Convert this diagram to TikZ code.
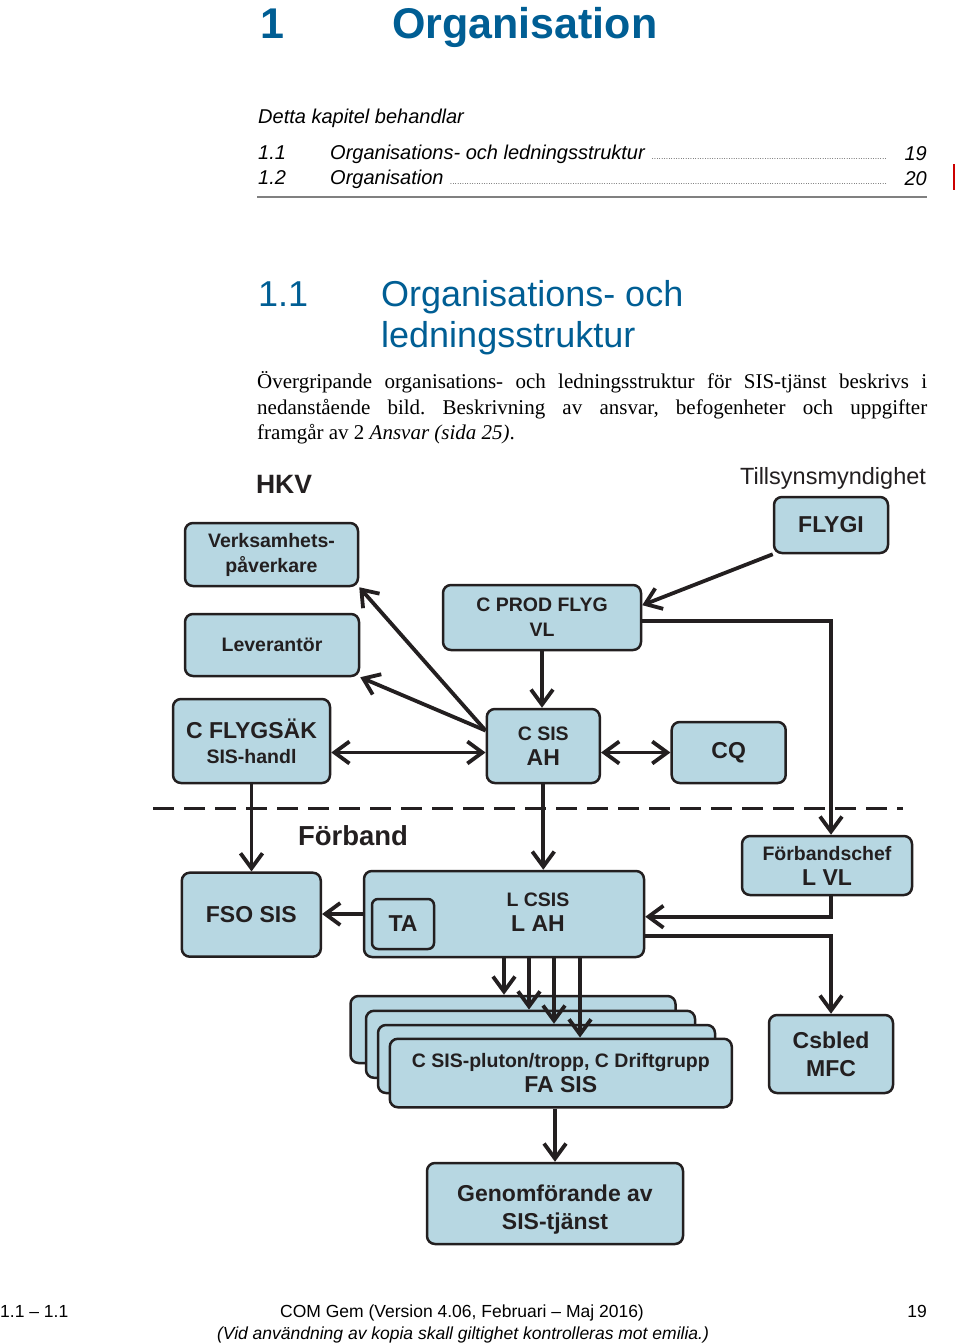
\documentclass[tikz,border=0pt]{standalone}
\usepackage{fontspec}
\setmainfont{Liberation Serif}
\setsansfont{Liberation Sans}
\newfontfamily\helv{Liberation Sans}
\usetikzlibrary{arrows.meta}
\frenchspacing

\definecolor{titleblue}{RGB}{0,94,148}
\definecolor{boxfill}{RGB}{183,215,226}
\definecolor{inkdark}{RGB}{35,31,32}

\newcommand{\smalltxt}{\helv\bfseries\fontsize{19.5}{25}\selectfont}
\newcommand{\bigtxt}{\helv\bfseries\fontsize{23}{28}\selectfont}
\newcommand{\tocfont}{\helv\itshape\fontsize{20}{24}\selectfont}
\newcommand{\leaderdots}{\ {\fontsize{7}{7}\selectfont\leaders\hbox to 2.4pt{\hss.\hss}\hfill}}

\tikzstyle{orgbox} = [rectangle, rounded corners=8pt, draw=inkdark, line width=2.5pt,
fill=boxfill, text=inkdark, align=center, inner sep=0pt, font=\smalltxt]
\tikzstyle{boxtext} = [align=center, text=inkdark, inner sep=0pt]
\tikzstyle{pagetext} = [inner sep=0pt, anchor=base west]
\tikzstyle{arrow} = [line width=3.8pt, draw=inkdark, -{Straight Barb[length=15pt,width=22pt]}]
\tikzstyle{twoway} = [line width=3.8pt, draw=inkdark,
{Straight Barb[length=15pt,width=22pt]}-{Straight Barb[length=15pt,width=22pt]}]
\tikzstyle{dashline} = [line width=3.5pt, draw=inkdark, dash pattern=on 21pt off 10pt]

\begin{document}
\begin{tikzpicture}[x=1pt, y=-1pt]
			\useasboundingbox (0,0) rectangle (960,1344);

			% page head
			\node (chapnum) [pagetext, font=\helv\bfseries\fontsize{43}{50}\selectfont, text=titleblue] at (260,38) {1};
			\node (chaptitle) [pagetext, font=\helv\bfseries\fontsize{43}{50}\selectfont, text=titleblue] at (392,38) {Organisation};
			\node (intro) [pagetext, font=\tocfont] at (258,123) {Detta kapitel behandlar};
			\node (tocnuma) [pagetext, font=\tocfont] at (258,159) {1.1};
			\node (tocitema) [pagetext, font=\tocfont] at (330,159) {\makebox[557pt][l]{Organisations- och ledningsstruktur\leaderdots}};
			\node (tocpagea) [pagetext, font=\tocfont, anchor=base east] at (927,160) {19};
			\node (tocnumb) [pagetext, font=\tocfont] at (258,184) {1.2};
			\node (tocitemb) [pagetext, font=\tocfont] at (330,184) {\makebox[557pt][l]{Organisation\leaderdots}};
			\node (tocpageb) [pagetext, font=\tocfont, anchor=base east] at (927,185) {20};
			\draw [gray, line width=2pt] (257,197) -- (927,197);
			\draw [red!80!black, line width=2pt] (954,164) -- (954,190);

			\node (secnum) [pagetext, font=\helv\fontsize{36}{42}\selectfont, text=titleblue] at (258,306) {1.1};
			\node (sectitle) [pagetext, font=\helv\fontsize{36}{42}\selectfont, text=titleblue] at (381,306) {Organisations- och};
			\node (sectitleb) [pagetext, font=\helv\fontsize{36}{42}\selectfont, text=titleblue] at (381,347) {ledningsstruktur};
			\node (parla) [pagetext, font=\fontsize{21}{26}\selectfont] at (257,388) {\makebox[670pt][s]{Övergripande organisations- och ledningsstruktur för SIS-tjänst beskrivs i}};
			\node (parlb) [pagetext, font=\fontsize{21}{26}\selectfont] at (257,414) {\makebox[670pt][s]{nedanstående bild. Beskrivning av ansvar, befogenheter och uppgifter}};
			\node (parlc) [pagetext, font=\fontsize{21}{26}\selectfont] at (257,439) {framgår av 2 \textit{Ansvar (sida 25)}.};

			% diagram
			\node (hkv) [pagetext, anchor=base, font=\helv\bfseries\fontsize{26.5}{30}\selectfont, text=inkdark] at (284,493) {HKV};
			\node (tillsyn) [pagetext, anchor=base, font=\helv\fontsize{23.5}{28}\selectfont, text=inkdark] at (833,484) {Tillsynsmyndighet};
			\node (forband) [pagetext, anchor=base, font=\helv\bfseries\fontsize{27.5}{30}\selectfont, text=inkdark] at (353,845) {Förband};

			\node (verk) [orgbox, minimum width=173pt, minimum height=63pt] at (271.5,554.5) {Verksamhets-\\påverkare};
			\node (flygi) [orgbox, minimum width=114pt, minimum height=56pt, font=\bigtxt] at (831,525) {FLYGI};
			\node (lev) [orgbox, minimum width=174pt, minimum height=62pt] at (272,645) {Leverantör};
			\node (cprod) [orgbox, minimum width=198pt, minimum height=65pt] at (542,617.5) {C PROD FLYG\\VL};
			\node (cflyg) [orgbox, minimum width=157pt, minimum height=84pt] at (251.5,741) {{\bigtxt C FLYGSÄK}\\SIS-handl};
			\node (csis) [orgbox, minimum width=113pt, minimum height=74pt] at (543.3,746) {C SIS\\{\bigtxt AH}};
			\node (cq) [orgbox, minimum width=114pt, minimum height=61pt, font=\bigtxt] at (728.7,752.5) {CQ};
			\node (fso) [orgbox, minimum width=139pt, minimum height=84pt, font=\bigtxt] at (251.3,914.7) {FSO SIS};
			\node (lcsis) [orgbox, minimum width=280pt, minimum height=86pt] at (504,914) {};
			\node (lcsistxt) [boxtext, font=\smalltxt] at (538,912) {L CSIS\\{\bigtxt L AH}};
			\node (ta) [orgbox, rounded corners=6pt, minimum width=62pt, minimum height=50pt, font=\bigtxt] at (403,924) {TA};
			\node (fchef) [orgbox, minimum width=170pt, minimum height=59pt] at (827,865.5) {Förbandschef\\{\bigtxt L VL}};
			\node (stacka) [orgbox, minimum width=325pt, minimum height=67pt] at (513,1029.5) {};
			\node (stackb) [orgbox, minimum width=329pt, minimum height=67pt] at (530.5,1044.3) {};
			\node (stackc) [orgbox, minimum width=337pt, minimum height=68pt] at (546.5,1059) {};
			\node (fasis) [orgbox, minimum width=342pt, minimum height=68.5pt] at (560.8,1073) {C SIS-pluton/tropp, C Driftgrupp\\{\bigtxt FA SIS}};
			\node (csbled) [orgbox, minimum width=124pt, minimum height=78pt, font=\bigtxt] at (831,1054) {Csbled\\MFC};
			\node (genom) [orgbox, minimum width=256pt, minimum height=81pt] at (555,1203.5) {};
			\node (genomtxt) [boxtext, font=\bigtxt] at (555,1210) {Genomförande av\\SIS-tjänst};
			\coordinate (rail) at (831,0);

			\draw [dashline] (153,808.5) -- (903,808.5);

			\draw [arrow] (csis.165) -- (verk.south east);
			\draw [arrow] (csis.165) -- (lev.south east);
			\draw [arrow] (flygi.south west) -- (cprod.7);
			\draw [arrow] (cprod.south) -- (cprod.south |- csis.north);
			\draw [arrow] ([yshift=-3.5pt]cprod.east) -| (rail |- fchef.north);
			\draw [twoway] (cflyg.east |- cq.west) -- (csis.west |- cq.west);
			\draw [twoway] (csis.east |- cq.west) -- (cq.west);
			\draw [arrow] (cflyg.south) -- (cflyg.south |- fso.north);
			\draw [arrow] (csis.south) -- (csis.south |- lcsis.north);
			\draw [arrow] (lcsis.west) -- (lcsis.west -| fso.east);
			\draw [arrow] (rail |- fchef.south) |- ([yshift=-2.7pt]lcsis.east);
			\draw [arrow] ([yshift=-22pt]lcsis.east) -| (csbled.north);
			\foreach \xx/\target in {504/stacka, 529/stackb, 554/stackc, 580/fasis}
				\draw [arrow] (\xx,0 |- lcsis.south) -- (\xx,0 |- \target.north);
			\draw [arrow] (fasis.south -| genom.north) -- (genom.north);

			% page foot
			\node (footsec) [pagetext, font=\helv\fontsize{17.5}{20}\selectfont] at (0,1317) {1.1 – 1.1};
			\node (footver) [pagetext, anchor=base, font=\helv\fontsize{17.5}{20}\selectfont] at (462,1317) {COM Gem (Version 4.06, Februari – Maj 2016)};
			\node (footpage) [pagetext, anchor=base east, font=\helv\fontsize{17.5}{20}\selectfont] at (927,1317) {19};
			\node (footnote) [pagetext, anchor=base, font=\helv\itshape\fontsize{17.5}{20}\selectfont] at (463,1339) {(Vid användning av kopia skall giltighet kontrolleras mot emilia.)};

		\end{tikzpicture}
\end{document}
